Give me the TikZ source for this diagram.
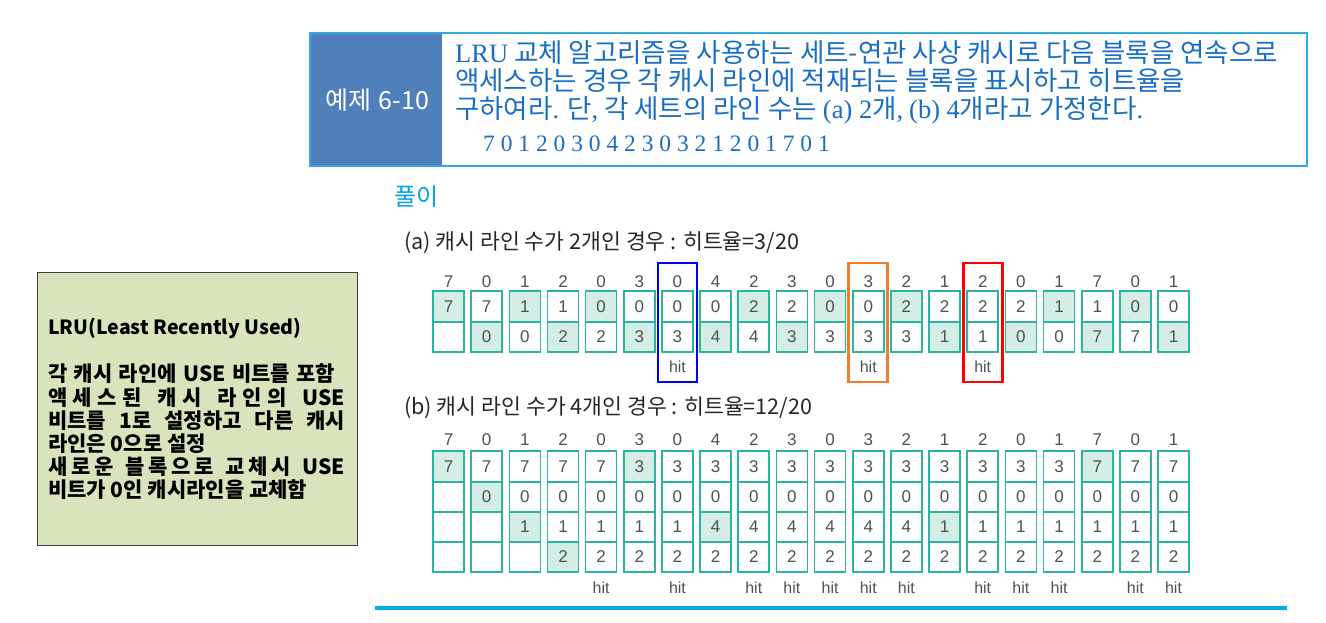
\documentclass[tikz,border=0pt]{standalone}
\usepackage{fontspec}
\setmainfont{Noto Sans CJK KR}
\newfontfamily\tms{Liberation Serif}
\newfontfamily\hel{Liberation Sans}
\definecolor{hdrdark}{RGB}{79,128,187}
\definecolor{hdrborder}{RGB}{51,169,224}
\definecolor{hdrtext}{RGB}{25,110,195}
\definecolor{pulicyan}{RGB}{0,163,227}
\definecolor{cellteal}{RGB}{43,180,160}
\definecolor{cellfill}{RGB}{212,237,230}
\definecolor{leftgreen}{RGB}{216,228,188}
\definecolor{leftborder}{RGB}{64,64,64}
\definecolor{numgray}{RGB}{80,80,80}
\definecolor{linecyan}{RGB}{0,174,239}
\definecolor{hitorange}{RGB}{237,125,49}
\tikzset{
  cell/.style={draw=cellteal, line width=1.6pt, minimum width=31pt, minimum height=30.5pt, inner sep=0pt, text=numgray, font=\hel\fontsize{17}{17}\selectfont},
  collabel/.style={inner sep=0pt, text=numgray, font=\hel\fontsize{17}{17}\selectfont},
  hitlabel/.style={inner sep=0pt, text=numgray, font=\hel\fontsize{16}{16}\selectfont},
  hitbox/.style={draw=#1, line width=2.6pt, minimum width=39pt, minimum height=119pt, inner sep=0pt},
  hdrline/.style={anchor=west, inner sep=0pt, text=hdrtext, font=\fontsize{26.5}{28}\selectfont},
  leftline/.style={anchor=west, inner sep=0pt, text=black, font=\bfseries\fontsize{21}{23}\selectfont},
}
\begin{document}
\begin{tikzpicture}[x=1pt,y=-1pt]
\useasboundingbox (0,0) rectangle (1326,622);
% header
\node[fill=hdrdark, anchor=north west, minimum width=133pt, minimum height=133pt, inner sep=0pt] (hdrl) at (309,31.5) {};
\node[draw=hdrborder, line width=2pt, anchor=north west, minimum width=997pt, minimum height=133pt, inner sep=0pt] (hdr) at (309,31.5) {};
\node[text=white, inner sep=0pt, font=\fontsize{25}{25}\selectfont] (ex) at (377.5,100) {예제\hspace{7pt}6-10};
\node[hdrline] (h1) at (455,53) {{\tms LRU} 교체 알고리즘을 사용하는 세트-연관 사상 캐시로 다음 블록을 연속으로};
\node[hdrline] (h2) at (455,81) {액세스하는 경우 각 캐시 라인에 적재되는 블록을 표시하고 히트율을};
\node[hdrline] (h3) at (455,110) {구하여라{\tms .} 단{\tms ,} 각 세트의 라인 수는 {\tms (a) 2}개{\tms ,} {\tms (b) 4}개라고 가정한다{\tms .}};
\node[hdrline, font=\tms\fontsize{23.5}{24}\selectfont] (h4) at (483,144) {7 0 1 2 0 3 0 4 2 3 0 3 2 1 2 0 1 7 0 1};
% solution title
\node[anchor=west, inner sep=0pt, text=pulicyan, font=\fontsize{24}{24}\selectfont] (puli) at (394,197) {풀이};
\node[anchor=west, inner sep=0pt, text=black!85, font=\fontsize{21.6}{21.6}\selectfont] (ta) at (404,243) {(a) 캐시 라인 수가 2개인 경우 : 히트율=3/20};
\node[anchor=west, inner sep=0pt, text=black!85, font=\fontsize{21.6}{21.6}\selectfont] (tb) at (404,408) {(b) 캐시 라인 수가 4개인 경우 : 히트율=12/20};
% left box
\node[draw=leftborder, line width=1.2pt, fill=leftgreen, anchor=north west, minimum width=320pt, minimum height=273pt, inner sep=0pt] (lbox) at (37,272) {};
\node[leftline, font=\bfseries\fontsize{19.5}{23}\selectfont] (l1) at (48,328) {LRU(Least Recently Used)};
\node[leftline] (l2) at (48,374) {\hbox to 287pt{각\hfil\ 캐시\hfil\ 라인에\hfil\ USE\hfil\ 비트를\hfil\ 포함}};
\node[leftline] (l3) at (48,398) {\hbox to 297pt{액\hfil 세\hfil 스\hfil 된\hfil\hfil\hfil 캐\hfil 시\hfil\hfil\hfil 라\hfil 인\hfil 의\hfil\hfil\hfil USE}};
\node[leftline] (l4) at (48,421) {\hbox to 297pt{비트를\hfil\ 1로\hfil\ 설정하고\hfil\ 다른\hfil\ 캐시}};
\node[leftline] (l5) at (48,444) {라인은 0으로 설정};
\node[leftline] (l6) at (48,467) {\hbox to 297pt{새\hfil 로\hfil 운\hfil\hfil\hfil 블\hfil 록\hfil 으\hfil 로\hfil\hfil\hfil 교\hfil 체\hfil 시\hfil\hfil\hfil USE}};
\node[leftline] (l7) at (48,490) {비트가 0인 캐시라인을 교체함};
% table (a)
\foreach \i/\lab/\t/\b/\s in {0/7/7/{}/1,1/0/7/0/2,2/1/1/0/1,3/2/1/2/2,4/0/0/2/1,5/3/0/3/2,6/0/0/3/0,7/4/0/4/2,8/2/2/4/1,9/3/2/3/2,10/0/0/3/1,11/3/0/3/0,12/2/2/3/1,13/1/2/1/2,14/2/2/1/0,15/0/2/0/2,16/1/1/0/1,17/7/1/7/2,18/0/0/7/1,19/1/0/1/2}{
  \pgfmathsetmacro\xx{448.5+38.16*\i}
  \def\fa{white}\def\fb{white}
  \ifnum\s=1 \def\fa{cellfill}\fi
  \ifnum\s=2 \def\fb{cellfill}\fi
  \node[collabel] (al\i) at (\xx,282) {\lab};
  \node[cell, fill=\fa] (at\i) at (\xx,306.5) {\t};
  \node[cell, fill=\fb] (ab\i) at (\xx,337) {\b};
}
\foreach \i/\c in {6/blue,11/hitorange,14/red}{
  \pgfmathsetmacro\xx{448.5+38.16*\i}
  \node[hitlabel] (ah\i) at (\xx,367) {hit};
  \node[hitbox=\c] (hb\i) at (\xx,322.5) {};
}
% table (b)
\foreach \i/\lab/\ra/\rb/\rc/\rd/\s in {0/7/7/{}/{}/{}/1,1/0/7/0/{}/{}/2,2/1/7/0/1/{}/3,3/2/7/0/1/2/4,4/0/7/0/1/2/0,5/3/3/0/1/2/1,6/0/3/0/1/2/0,7/4/3/0/4/2/3,8/2/3/0/4/2/0,9/3/3/0/4/2/0,10/0/3/0/4/2/0,11/3/3/0/4/2/0,12/2/3/0/4/2/0,13/1/3/0/1/2/3,14/2/3/0/1/2/0,15/0/3/0/1/2/0,16/1/3/0/1/2/0,17/7/7/0/1/2/1,18/0/7/0/1/2/0,19/1/7/0/1/2/0}{
  \pgfmathsetmacro\xx{448.5+38.16*\i}
  \def\fa{white}\def\fb{white}\def\fc{white}\def\fd{white}
  \ifnum\s=1 \def\fa{cellfill}\fi
  \ifnum\s=2 \def\fb{cellfill}\fi
  \ifnum\s=3 \def\fc{cellfill}\fi
  \ifnum\s=4 \def\fd{cellfill}\fi
  \node[collabel] (bl\i) at (\xx,440) {\lab};
  \node[cell, fill=\fa] (ba\i) at (\xx,466.5) {\ra};
  \node[cell, fill=\fb] (bb\i) at (\xx,497) {\rb};
  \node[cell, fill=\fc] (bc\i) at (\xx,527) {\rc};
  \node[cell, fill=\fd] (bd\i) at (\xx,557) {\rd};
}
\foreach \i in {4,6,8,9,10,11,12,14,15,16,18,19}{
  \pgfmathsetmacro\xx{448.5+38.16*\i}
  \node[hitlabel] (bh\i) at (\xx,588) {hit};
}
% bottom rule
\coordinate (rl) at (375,608);
\coordinate (rr) at (1287,608);
\draw[line width=4pt, linecyan] (rl) -- (rr);
\end{tikzpicture}
\end{document}
